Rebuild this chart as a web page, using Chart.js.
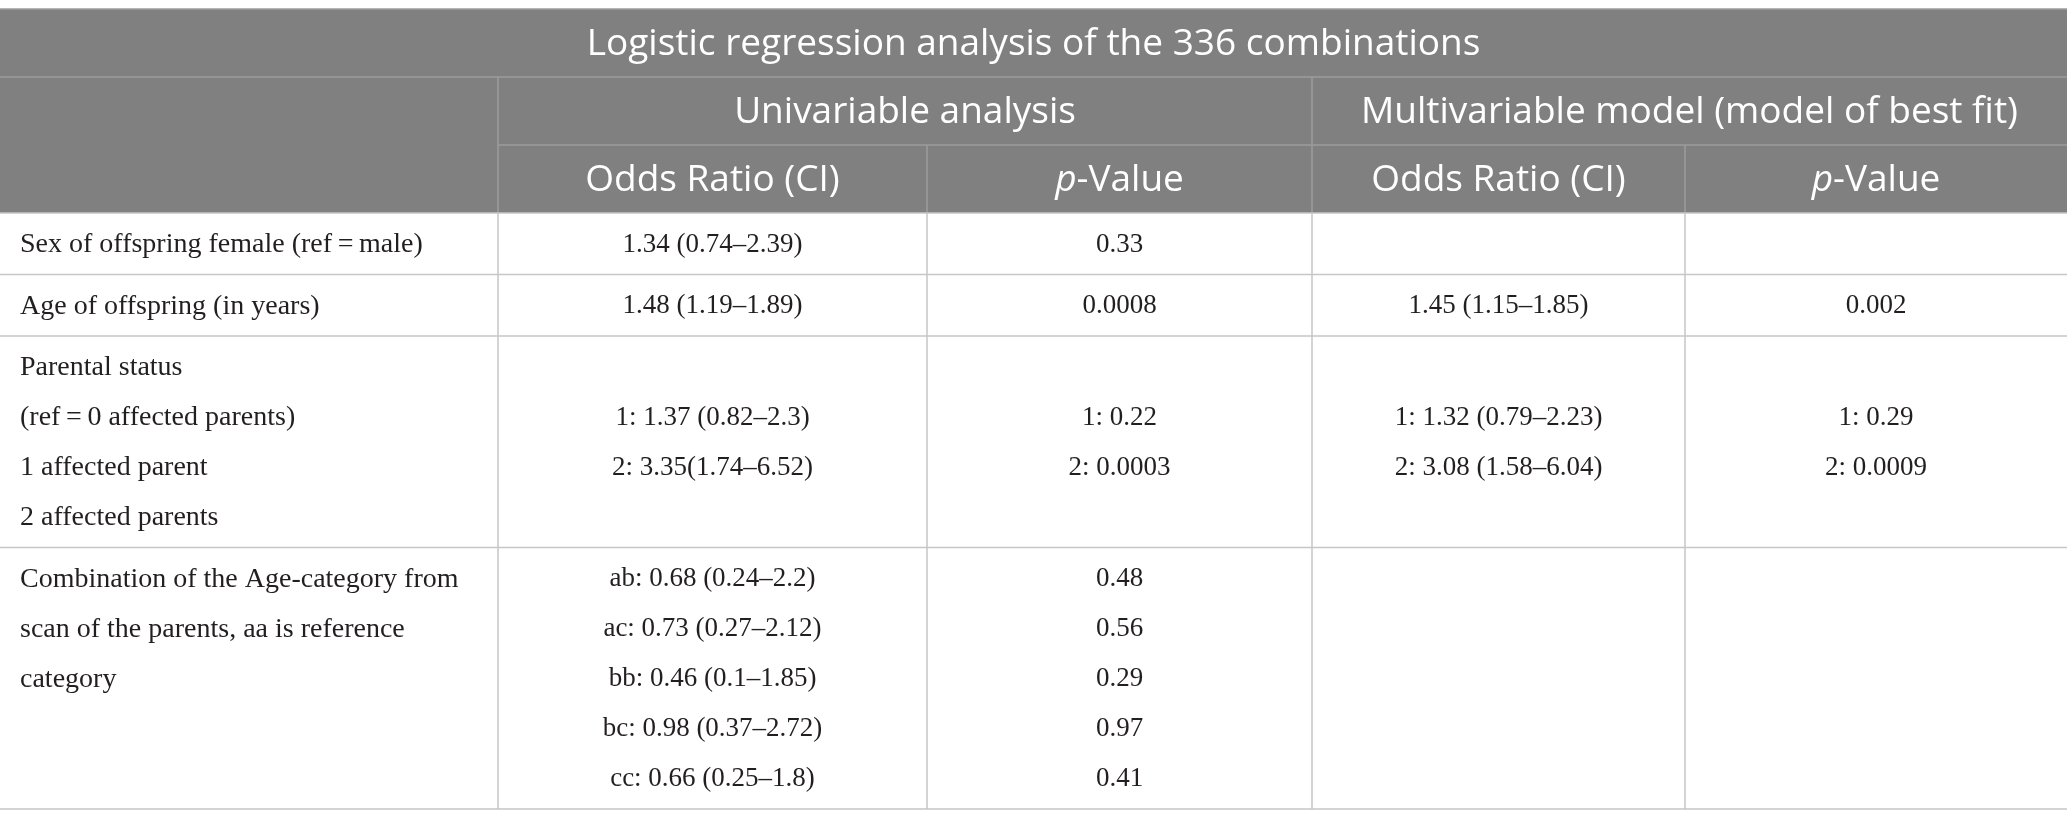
<!DOCTYPE html>
<html>
<head>
<meta charset="utf-8">
<title>Logistic regression analysis of the 336 combinations</title>
<script src="https://cdn.jsdelivr.net/npm/chart.js@4.4.1/dist/chart.umd.min.js"></script>
<style>
  html, body { margin: 0; padding: 0; background: #ffffff; }
  #tableChart { display: block; }
</style>
</head>
<body>
<canvas id="tableChart" width="2067" height="828"></canvas>
<script>
const TITLE = 'Logistic regression analysis of the 336 combinations';
const GROUPS = ['Univariable analysis', 'Multivariable model (model of best fit)'];
const COLUMNS = ['Odds Ratio (CI)', 'p-Value', 'Odds Ratio (CI)', 'p-Value'];

const VARIABLES = [
  ['Sex of offspring female (ref\u2009=\u2009male)'],
  ['Age of offspring (in years)'],
  ['Parental status', '(ref\u2009=\u20090 affected parents)', '1 affected parent', '2 affected parents'],
  ['Combination of the Age-category from', 'scan of the parents, aa is reference', 'category']
];
const UNI_OR = [
  ['1.34 (0.74\u20132.39)'],
  ['1.48 (1.19\u20131.89)'],
  ['1: 1.37 (0.82\u20132.3)', '2: 3.35(1.74\u20136.52)'],
  ['ab: 0.68 (0.24\u20132.2)', 'ac: 0.73 (0.27\u20132.12)', 'bb: 0.46 (0.1\u20131.85)', 'bc: 0.98 (0.37\u20132.72)', 'cc: 0.66 (0.25\u20131.8)']
];
const UNI_P = [
  ['0.33'],
  ['0.0008'],
  ['1: 0.22', '2: 0.0003'],
  ['0.48', '0.56', '0.29', '0.97', '0.41']
];
const MULTI_OR = [
  [],
  ['1.45 (1.15\u20131.85)'],
  ['1: 1.32 (0.79\u20132.23)', '2: 3.08 (1.58\u20136.04)'],
  []
];
const MULTI_P = [
  [],
  ['0.002'],
  ['1: 0.29', '2: 0.0009'],
  []
];

// layout (table units)
const COL_WIDTHS = [498, 429, 385, 373, 382];
const HEAD_H = 68;
const LINE_H = 50;
const ROW_PAD = 11.5;
const HEAD_BG = '#7f807f';
const HEAD_LINE = '#9c9d9c';
const BODY_LINE = '#c6c6c6';
const HEAD_FONT = 37;
const BODY_FONT = 27;
const LABEL_FONT = 28;
const SANS = '"Open Sans", sans-serif';
const SERIF = '"Liberation Serif", "Times New Roman", serif';

const bodyCols = [VARIABLES, UNI_OR, UNI_P, MULTI_OR, MULTI_P];
const rowLines = VARIABLES.map((_, i) => Math.max(...bodyCols.map(c => c[i].length)));
const rowHeights = rowLines.map(n => n * LINE_H + ROW_PAD);

const colEdges = [0];
COL_WIDTHS.forEach(w => colEdges.push(colEdges[colEdges.length - 1] + w));
const rowEdges = [3 * HEAD_H];
rowHeights.forEach(h => rowEdges.push(rowEdges[rowEdges.length - 1] + h));

const totalW = colEdges[colEdges.length - 1];
const totalH = rowEdges[rowEdges.length - 1];

function drawHeaderText(ctx, text, cx, cy) {
  const normal = `${HEAD_FONT}px ${SANS}`;
  const italic = `italic ${HEAD_FONT}px ${SANS}`;
  // italic p in "p-Value"
  if (text.startsWith('p-')) {
    const rest = text.slice(1);
    ctx.font = italic;
    const wp = ctx.measureText('p').width;
    ctx.font = normal;
    const wr = ctx.measureText(rest).width;
    const left = cx - (wp + wr) / 2;
    ctx.textAlign = 'left';
    ctx.font = italic;
    ctx.fillText('p', left, cy);
    ctx.font = normal;
    ctx.fillText(rest, left + wp, cy);
    return;
  }
  ctx.font = normal;
  ctx.textAlign = 'center';
  ctx.fillText(text, cx, cy);
}

const tablePlugin = {
  id: 'tablePlugin',
  afterDraw(chart) {
    const { ctx, scales: { x, y } } = chart;
    const X = v => x.getPixelForValue(v);
    const Y = v => y.getPixelForValue(v);

    ctx.save();

    // header background
    ctx.fillStyle = HEAD_BG;
    ctx.fillRect(X(0), Y(0), X(totalW) - X(0), Y(3 * HEAD_H) - Y(0));

    const line = (x1, y1, x2, y2, color) => {
      ctx.strokeStyle = color;
      ctx.lineWidth = 1.5;
      ctx.beginPath();
      ctx.moveTo(X(x1), Y(y1));
      ctx.lineTo(X(x2), Y(y2));
      ctx.stroke();
    };

    // header grid
    line(0, 0, totalW, 0, HEAD_LINE);
    line(0, HEAD_H, totalW, HEAD_H, HEAD_LINE);
    line(colEdges[1], 2 * HEAD_H, totalW, 2 * HEAD_H, HEAD_LINE);
    line(colEdges[1], HEAD_H, colEdges[1], 3 * HEAD_H, HEAD_LINE);
    line(colEdges[3], HEAD_H, colEdges[3], 3 * HEAD_H, HEAD_LINE);
    line(colEdges[2], 2 * HEAD_H, colEdges[2], 3 * HEAD_H, HEAD_LINE);
    line(colEdges[4], 2 * HEAD_H, colEdges[4], 3 * HEAD_H, HEAD_LINE);

    // body grid
    rowEdges.forEach(r => line(0, r, totalW, r, BODY_LINE));
    for (let c = 1; c < colEdges.length - 1; c++) {
      line(colEdges[c], rowEdges[0], colEdges[c], totalH, BODY_LINE);
    }

    // header text
    ctx.fillStyle = '#ffffff';
    ctx.textBaseline = 'middle';
    drawHeaderText(ctx, TITLE, X(totalW / 2), Y(HEAD_H / 2 + 1));
    drawHeaderText(ctx, GROUPS[0], X((colEdges[1] + colEdges[3]) / 2), Y(HEAD_H * 1.5 + 1));
    drawHeaderText(ctx, GROUPS[1], X((colEdges[3] + colEdges[5]) / 2), Y(HEAD_H * 1.5 + 1));
    COLUMNS.forEach((t, i) => {
      drawHeaderText(ctx, t, X((colEdges[i + 1] + colEdges[i + 2]) / 2), Y(HEAD_H * 2.5 + 1));
    });

    // body text
    ctx.fillStyle = '#231f20';
    VARIABLES.forEach((_, r) => {
      const top = rowEdges[r];
      const mid = (rowEdges[r] + rowEdges[r + 1]) / 2;
      bodyCols.forEach((col, c) => {
        const lines = col[r];
        if (c === 0) {
          ctx.font = `${LABEL_FONT}px ${SERIF}`;
          ctx.textAlign = 'left';
          lines.forEach((t, k) => {
            ctx.fillText(t, X(colEdges[0] + 20), Y(top + ROW_PAD / 2 + LINE_H / 2 + k * LINE_H + 1));
          });
        } else {
          ctx.font = `${BODY_FONT}px ${SERIF}`;
          ctx.textAlign = 'center';
          const cx = (colEdges[c] + colEdges[c + 1]) / 2;
          const start = mid - (lines.length - 1) * LINE_H / 2 + 1;
          lines.forEach((t, k) => {
            ctx.fillText(t, X(cx), Y(start + k * LINE_H));
          });
        }
      });
    });

    ctx.restore();
  }
};

window.addEventListener('DOMContentLoaded', () => {
  const ctx = document.getElementById('tableChart').getContext('2d');
  new Chart(ctx, {
    type: 'scatter',
    data: { datasets: [] },
    options: {
      responsive: false,
      animation: false,
      layout: { padding: { top: 9, bottom: 828 - 9 - totalH, left: 0, right: 0 } },
      plugins: {
        legend: { display: false },
        tooltip: { enabled: false }
      },
      scales: {
        x: { type: 'linear', min: 0, max: totalW, display: false },
        y: { type: 'linear', min: 0, max: totalH, reverse: true, display: false }
      }
    },
    plugins: [tablePlugin]
  });
});
</script>
</body>
</html>
